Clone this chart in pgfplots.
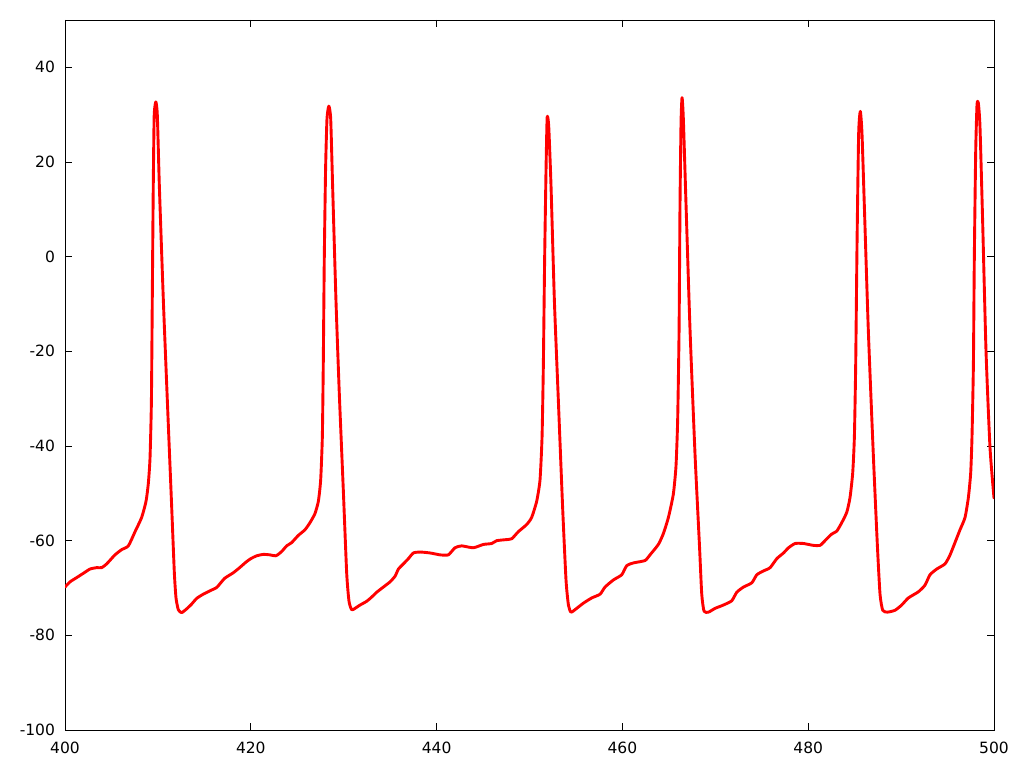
\documentclass[border=0pt]{standalone}
\usepackage{fontspec}
\setmainfont{DejaVu Sans}
\usepackage{pgfplots}
\pgfplotsset{compat=1.18}
\begin{document}
\begin{tikzpicture}[x=1pt,y=1pt]
\useasboundingbox (0,0) rectangle (1024,768);
\begin{axis}[
  at={(65pt,38pt)}, anchor=south west,
  scale only axis, width=929pt, height=710pt,
  xmin=400, xmax=500, ymin=-100, ymax=50,
  xtick={400,420,...,500}, ytick={-100,-80,...,40},
  tick align=inside, major tick length=7pt,
  xtick pos=both, ytick pos=both,
  axis line style={black, line width=0.9pt},
  tick style={black, line width=0.9pt},
  /pgf/number format/assume math mode=true,
  tick label style={font=\fontsize{15.5}{18}\selectfont},
  xticklabel style={anchor=center, yshift=-18pt},
  yticklabel style={xshift=-6.5pt},
  clip=true,
]
\addplot[red, line width=2.9pt, line join=round, line cap=round, smooth, tension=0.35] coordinates {
(400.00,-69.8) (400.54,-68.7) (401.26,-67.8) (401.97,-66.9) (402.69,-66.0)
(403.41,-65.7) (403.95,-65.7) (404.49,-64.9) (405.38,-63.0) (406.10,-61.9)
(406.82,-61.1) (407.54,-58.1) (408.25,-55.1) (408.72,-51.7) (408.97,-47.9)
(409.15,-42.6) (409.30,-30.6) (409.40,-7.9) (409.50,14.7) (409.60,29.8)
(409.78,32.7) (409.94,29.8) (410.16,14.7) (410.59,-9.4) (411.02,-30.6)
(411.49,-53.2) (411.77,-66.8) (411.95,-72.1) (412.20,-74.6) (412.56,-75.2)
(413.10,-74.4) (413.63,-73.4) (414.17,-72.2) (414.89,-71.3) (415.60,-70.6)
(416.32,-69.9) (416.68,-69.1) (417.22,-67.9) (418.10,-66.8) (418.80,-65.7)
(419.50,-64.5) (420.00,-63.8) (420.63,-63.2) (421.35,-62.9) (422.07,-63.0)
(422.70,-63.2) (423.32,-62.3) (423.86,-61.1) (424.40,-60.4) (425.11,-58.9)
(425.83,-57.7) (426.37,-56.2) (426.90,-54.3) (427.27,-51.7) (427.52,-47.2)
(427.70,-38.1) (427.80,-23.0) (427.91,-0.4) (428.05,18.5) (428.20,29.1)
(428.40,31.8) (428.60,29.1) (428.81,14.7) (429.17,-9.4) (429.53,-29.1)
(429.96,-49.4) (430.32,-66.8) (430.57,-72.8) (430.86,-74.6) (431.22,-74.3)
(431.76,-73.6) (432.48,-72.8) (433.02,-71.9) (433.55,-70.9) (434.27,-69.8)
(434.99,-68.7) (435.53,-67.5) (435.89,-66.0) (436.43,-64.9) (436.96,-63.8)
(437.50,-62.6) (438.22,-62.4) (439.30,-62.6) (440.38,-63.0) (441.26,-63.0)
(441.98,-61.5) (442.70,-61.1) (443.95,-61.5) (445.03,-60.8) (445.93,-60.6)
(446.47,-60.0) (447.37,-59.8) (448.08,-59.6) (448.80,-58.1) (449.69,-56.6)
(450.23,-55.1) (450.77,-51.7) (451.13,-47.2) (451.35,-38.1) (451.49,-23.0)
(451.63,-0.4) (451.78,18.5) (451.90,29.4) (452.07,27.5) (452.32,14.7)
(452.68,-9.4) (453.11,-30.6) (453.57,-53.2) (453.93,-68.3) (454.19,-73.6)
(454.47,-75.1) (455.08,-74.3) (455.80,-73.2) (456.70,-72.1) (457.60,-71.3)
(458.13,-69.8) (459.03,-68.3) (459.93,-67.2) (460.46,-65.3) (461.18,-64.7)
(462.43,-64.2) (462.97,-63.0) (463.87,-60.8) (464.41,-58.5) (464.95,-55.1)
(465.48,-50.2) (465.77,-44.2) (465.95,-34.3) (466.10,-15.5) (466.20,10.9)
(466.31,28.3) (466.42,33.6) (466.56,29.1) (466.85,10.9) (467.28,-15.5)
(467.82,-41.9) (468.29,-60.8) (468.54,-71.3) (468.79,-74.9) (469.26,-75.1)
(469.98,-74.3) (470.87,-73.6) (471.77,-72.7) (472.31,-70.9) (473.03,-69.8)
(473.93,-68.9) (474.47,-67.2) (475.18,-66.4) (475.90,-65.7) (476.62,-63.8)
(477.34,-62.6) (477.88,-61.5) (478.59,-60.6) (479.49,-60.6) (480.57,-61.0)
(481.27,-61.0) (481.81,-60.0) (482.53,-58.6) (483.07,-58.0) (483.61,-56.2)
(484.15,-54.0) (484.50,-50.9) (484.79,-45.7) (484.97,-38.1) (485.11,-23.0)
(485.26,3.4) (485.43,26.0) (485.61,30.7) (485.79,26.0) (486.04,10.9)
(486.47,-15.5) (487.01,-41.9) (487.44,-60.8) (487.73,-71.3) (488.02,-74.7)
(488.52,-75.1) (489.35,-74.7) (490.06,-73.6) (490.78,-72.1) (491.86,-70.8)
(492.57,-69.4) (493.11,-67.2) (493.83,-66.0) (494.73,-64.9) (495.27,-63.0)
(495.80,-60.4) (496.34,-57.7) (496.88,-55.1) (497.24,-50.9) (497.49,-45.7)
(497.63,-38.1) (497.78,-23.0) (497.88,-0.4) (498.03,22.3) (498.17,32.1)
(498.31,32.5) (498.49,27.5) (498.78,7.2) (499.14,-20.0) (499.57,-40.4)
(500.00,-51.0)
};
\end{axis}
\end{tikzpicture}
\end{document}
